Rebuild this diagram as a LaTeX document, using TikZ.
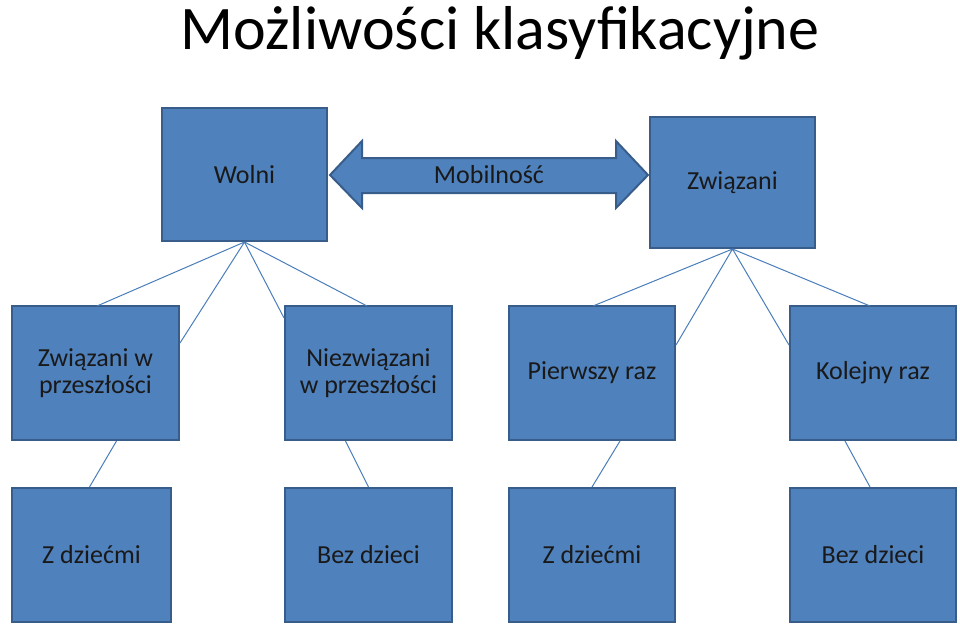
\documentclass[tikz,border=0pt]{standalone}
\usepackage{fontspec}
\setmainfont{Carlito}
\usetikzlibrary{shapes.arrows}
\definecolor{boxfill}{HTML}{4F81BD}
\definecolor{boxline}{HTML}{385D8A}
\definecolor{conn}{HTML}{4A7EBB}
\begin{document}
\begin{tikzpicture}[x=1pt,y=-1pt,
  box/.style={draw=boxline,line width=2pt,fill=boxfill,inner sep=2pt,align=center,font=\fontsize{26}{27}\selectfont,text=black!90},
  conn/.style={draw=conn,line width=1pt}]
\useasboundingbox (0,0) rectangle (960,627);
\node[font=\fontsize{62}{66}\selectfont,inner sep=0pt] (title) at (500,33) {Możliwości klasyfikacyjne};
\node[box,minimum width=165pt,minimum height=133pt] (W) at (244.5,174.5) {Wolni};
\node[box,minimum width=165pt,minimum height=131pt] (Z) at (732.5,182.5) {Związani};
\draw[draw=boxline,line width=2pt,fill=boxfill]
  (330,175) -- (362,141) -- (362,158) -- (616,158) -- (616,141) -- (648,175)
  -- (616,208) -- (616,193) -- (362,193) -- (362,208) -- cycle;
\node[font=\fontsize{26}{27}\selectfont,text=black!90] (mob) at (489,175) {Mobilność};
\node[box,minimum width=167pt,minimum height=134pt] (A) at (95.5,373) {Związani w\\przeszłości};
\node[box,minimum width=167pt,minimum height=134pt] (B) at (368.5,373) {Niezwiązani\\w przeszłości};
\node[box,minimum width=166pt,minimum height=134pt] (C) at (592,373) {Pierwszy raz};
\node[box,minimum width=166pt,minimum height=134pt] (D) at (873,373) {Kolejny raz};
\node[box,minimum width=159pt,minimum height=134pt] (A2) at (91.5,555) {Z dziećmi};
\node[box,minimum width=167pt,minimum height=134pt] (B2) at (368.5,555) {Bez dzieci};
\node[box,minimum width=166pt,minimum height=134pt] (C2) at (592,555) {Z dziećmi};
\node[box,minimum width=166pt,minimum height=134pt] (D2) at (873,555) {Bez dzieci};
\draw[conn] (W.south) -- (97,306) (W.south) -- (A.east |- 0,343)
  (W.south) -- (B.west |- 0,318) (W.south) -- (367,306);
\draw[conn] (Z.south) -- (593,306) (Z.south) -- (C.east |- 0,345)
  (Z.south) -- (D.west |- 0,345) (Z.south) -- (870,306);
\draw[conn] ([xshift=21pt]A.south) -- ([xshift=-2pt]A2.north);
\draw[conn] ([xshift=-23pt]B.south) -- (B2.north);
\draw[conn] ([xshift=28pt]C.south) -- (C2.north);
\draw[conn] ([xshift=-28pt]D.south) -- ([xshift=-3pt]D2.north);
\end{tikzpicture}
\end{document}
